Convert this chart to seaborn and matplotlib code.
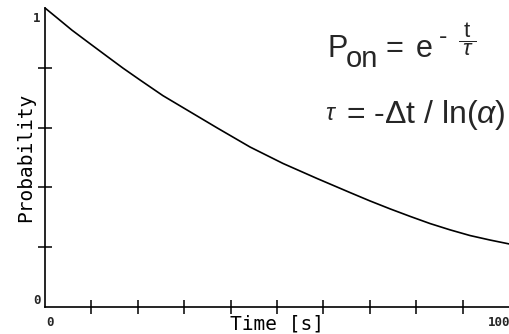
import numpy as np
import pandas as pd
import matplotlib
matplotlib.use("Agg")
import matplotlib.pyplot as plt
import seaborn as sns

# values
time_s = [0, 2.6, 5.8, 9.5, 13.4, 16.8, 20.5, 25.4, 30.6, 37.1, 44.2, 51.3,
          58.6, 65.7, 70.0, 74.4, 78.7, 83.0, 87.3, 91.6, 95.9, 100]
prob = [1.0, 0.967, 0.926, 0.883, 0.838, 0.799, 0.759, 0.707, 0.659, 0.599,
        0.535, 0.480, 0.430, 0.383, 0.355, 0.328, 0.303, 0.279, 0.258, 0.239,
        0.224, 0.211]

x_ticks = [10, 20, 30, 40, 50, 60, 70, 80, 90]
y_ticks = [0.2, 0.4, 0.6, 0.8]
x_end_labels = ["0", "100"]
y_end_labels = ["0", "1"]

df = pd.DataFrame({"Time": time_s, "Probability": prob})

sns.set_style("white")
plt.rcParams["mathtext.fontset"] = "custom"
plt.rcParams["mathtext.rm"] = "Liberation Sans"
plt.rcParams["mathtext.it"] = "Liberation Sans:italic"

fig = plt.figure(figsize=(5.1, 3.34), dpi=100)
ax = fig.add_axes([45 / 510, 27 / 334, 464 / 510, 299 / 334])

sns.lineplot(data=df, x="Time", y="Probability", color="black", lw=1.2,
             ax=ax, clip_on=False)

ax.set_xlim(0, 100)
ax.set_ylim(0, 1)
for s in ["top", "right"]:
    ax.spines[s].set_visible(False)
for s in ["left", "bottom"]:
    ax.spines[s].set_color("black")
    ax.spines[s].set_linewidth(1.2)

ax.set_xticks(x_ticks)
ax.set_yticks(y_ticks)
ax.set_xticklabels([])
ax.set_yticklabels([])
ax.tick_params(direction="inout", length=10, width=1.1, color="black",
               left=True, bottom=True)

mono = "DejaVu Sans Mono"
ax.set_xlabel("Time [s]", family=mono, size=14, color="black")
ax.set_ylabel("Probability", family=mono, size=14, color="black")
ax.xaxis.set_label_coords(0.5, -0.025)
ax.yaxis.set_label_coords(-0.022, 0.5)

# end labels of the axes
ax.text(-0.01, 0, y_end_labels[0], transform=ax.transAxes, ha="right",
        va="bottom", family=mono, weight="bold", size=9)
ax.text(-0.01, 0.985, y_end_labels[1], transform=ax.transAxes, ha="right",
        va="top", family=mono, weight="bold", size=9)
ax.text(0.002, -0.03, x_end_labels[0], transform=ax.transAxes, ha="left",
        va="top", family=mono, weight="bold", size=9)
ax.text(1.002, -0.03, x_end_labels[1], transform=ax.transAxes, ha="right",
        va="top", family=mono, weight="bold", size=9)

# formula, placed in pixel positions
def fx(x):
    return x / 510

def fy(y):
    return 1 - y / 334

sans = "Liberation Sans"
fig.text(fx(327), fy(57), "P", family=sans, size=22, va="baseline")
fig.text(fx(346), fy(67), "on", family=sans, size=21, va="baseline")
fig.text(fx(386), fy(57), "=", family=sans, size=22, va="baseline")
fig.text(fx(416), fy(57), "e", family=sans, size=22, va="baseline")
fig.text(fx(439), fy(44), "-", family=sans, size=18, va="baseline")
fig.text(fx(467), fy(39), r"$\dfrac{\;\mathrm{t}\;}{\tau}$", size=16,
         ha="center", va="center")
fig.text(fx(325), fy(120), r"$\tau$", size=17, va="baseline")
fig.text(fx(346), fy(123), "= -Δt / ln($\\alpha$)", family=sans,
         size=23, va="baseline")

fig.savefig("out.png", dpi=100)
